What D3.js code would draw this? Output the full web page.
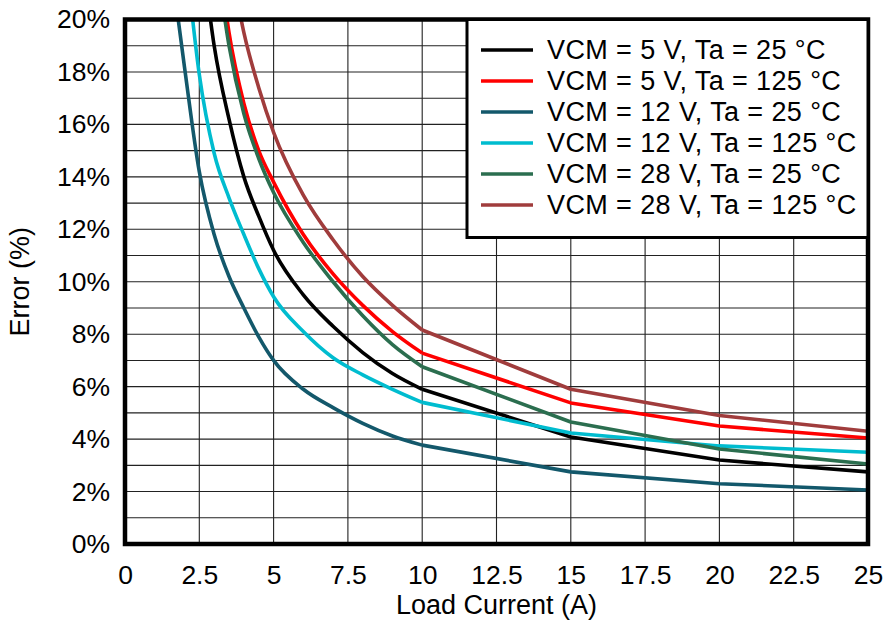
<!DOCTYPE html>
<html>
<head>
<meta charset="utf-8">
<script src="https://cdn.jsdelivr.net/npm/d3@7"></script>
<style>
	body { margin: 0; background: #fff; }
	text { font-family: "Liberation Sans", Arial, sans-serif; fill: #000; }
</style>
</head>
<body>
<svg></svg>
<script>
// load current (A)
var loadCurrent = [1.5, 2, 2.5, 3, 3.5, 4, 4.5, 5, 6, 7, 8, 9, 10, 15, 20, 25];
// error (%) per series, null = off the chart
var vcm5Ta25   = [null, null, 23.5, 19.0, 16.2, 14.0, 12.5, 11.2, 9.5, 8.3, 7.3, 6.5, 5.9, 4.08, 3.2, 2.75];
var vcm5Ta125  = [null, null, null, 24.0, 19.5, 16.8, 15.0, 13.8, 11.8, 10.3, 9.1, 8.1, 7.28, 5.38, 4.5, 4.04];
var vcm12Ta25  = [22.5, 18.2, 14.2, 11.8, 10.2, 9.0, 7.9, 7.0, 5.9, 5.2, 4.6, 4.12, 3.77, 2.75, 2.3, 2.06];
var vcm12Ta125 = [null, 23.0, 17.9, 14.9, 13.2, 11.8, 10.5, 9.43, 8.1, 7.1, 6.45, 5.9, 5.4, 4.23, 3.74, 3.5];
var vcm28Ta25  = [null, null, null, 23.0, 19.0, 16.4, 14.7, 13.4, 11.5, 10.0, 8.7, 7.6, 6.76, 4.65, 3.62, 3.05];
var vcm28Ta125 = [null, null, null, null, 22.5, 19.5, 17.4, 15.7, 13.3, 11.6, 10.2, 9.1, 8.16, 5.9, 4.9, 4.3];

var seriesNames = ['VCM = 5 V, Ta = 25 °C', 'VCM = 5 V, Ta = 125 °C', 'VCM = 12 V, Ta = 25 °C',
	'VCM = 12 V, Ta = 125 °C', 'VCM = 28 V, Ta = 25 °C', 'VCM = 28 V, Ta = 125 °C'];
var seriesValues = [vcm5Ta25, vcm5Ta125, vcm12Ta25, vcm12Ta125, vcm28Ta25, vcm28Ta125];
var seriesColors = ['#000000', '#ff0000', '#13586b', '#00bccf', '#2b6e4f', '#a03c3c'];

var xTicks = [0, 2.5, 5, 7.5, 10, 12.5, 15, 17.5, 20, 22.5, 25];
var yTicks = [0, 2, 4, 6, 8, 10, 12, 14, 16, 18, 20];
var yGrid = d3.range(0, 21, 1);

var unit = {width: 886, height: 621};
var m = {top: 19.5, right: 18, bottom: 77, left: 125};
var w = unit.width - m.left - m.right;
var h = unit.height - m.top - m.bottom;

var svg = d3.select('svg')
	.attr('width', unit.width)
	.attr('height', unit.height);

var x = d3.scaleLinear().domain([0, 25]).range([0, w]);
var y = d3.scaleLinear().domain([0, 20]).range([h, 0]);

var g = svg.append('g').attr('transform', 'translate(' + m.left + ',' + m.top + ')');

svg.append('defs').append('clipPath').attr('id', 'plotClip')
	.append('rect').attr('width', w).attr('height', h);

// grid
g.append('g').selectAll('line').data(yGrid).enter().append('line')
	.attr('x1', 0).attr('x2', w)
	.attr('y1', (d) => y(d)).attr('y2', (d) => y(d))
	.attr('stroke', '#222').attr('stroke-width', 1.1);
g.append('g').selectAll('line').data(xTicks).enter().append('line')
	.attr('y1', 0).attr('y2', h)
	.attr('x1', (d) => x(d)).attr('x2', (d) => x(d))
	.attr('stroke', '#222').attr('stroke-width', 1.1);

// axes labels
var xAxis = g.append('g').attr('transform', 'translate(0,' + h + ')')
	.call(d3.axisBottom(x).tickValues(xTicks).tickSize(0).tickFormat(d3.format('')));
var yAxis = g.append('g')
	.call(d3.axisLeft(y).tickValues(yTicks).tickSize(0).tickPadding(15).tickFormat((d) => d + '%'));
[xAxis, yAxis].forEach(function(a){
	a.select('.domain').remove();
	a.selectAll('text').style('font-size', '26.5px').attr('fill', '#000');
});
xAxis.selectAll('text').attr('dy', 0).attr('y', 40);

g.append('text')
	.attr('x', w / 2).attr('y', h + 70)
	.attr('text-anchor', 'middle')
	.style('font-size', '27px')
	.text('Load Current (A)');
g.append('text')
	.attr('transform', 'translate(' + (-96) + ',' + (h / 2) + ') rotate(-90)')
	.attr('text-anchor', 'middle')
	.style('font-size', '27px')
	.text('Error (%)');

// curves
var smooth = d3.line()
	.defined((d) => d[1] != null)
	.x((d) => x(d[0]))
	.y((d) => y(d[1]))
	.curve(d3.curveMonotoneX);
var straight = d3.line()
	.x((d) => x(d[0]))
	.y((d) => y(d[1]));

var gLines = g.append('g').attr('clip-path', 'url(#plotClip)');
seriesValues.forEach(function(vals, i){
	var pts = loadCurrent.map((c, j) => [c, vals[j]]);
	gLines.append('path')
		.attr('d', smooth(pts.filter((d) => d[0] <= 10)))
		.attr('fill', 'none').attr('stroke', seriesColors[i]).attr('stroke-width', 3.6);
	gLines.append('path')
		.attr('d', straight(pts.filter((d) => d[0] >= 10)))
		.attr('fill', 'none').attr('stroke', seriesColors[i]).attr('stroke-width', 3.6)
		.attr('stroke-linejoin', 'round');
});

// frame
g.append('rect').attr('width', w).attr('height', h)
	.attr('fill', 'none').attr('stroke', '#000').attr('stroke-width', 4.5);

// legend
var lg = g.append('g').attr('transform', 'translate(' + (w - 401) + ',0)');
lg.append('rect').attr('width', 401).attr('height', 218)
	.attr('fill', '#fff').attr('stroke', '#000').attr('stroke-width', 3);
var item = lg.selectAll('.item').data(seriesNames).enter().append('g')
	.attr('transform', (d, i) => 'translate(0,' + (30.5 + i * 31) + ')');
item.append('line')
	.attr('x1', 14).attr('x2', 66)
	.attr('stroke', (d, i) => seriesColors[i]).attr('stroke-width', 3.6);
item.append('text')
	.attr('x', 80).attr('dy', '0.35em')
	.style('font-size', '27px')
	.style('letter-spacing', '0.4px')
	.text((d) => d);
</script>
</body>
</html>
